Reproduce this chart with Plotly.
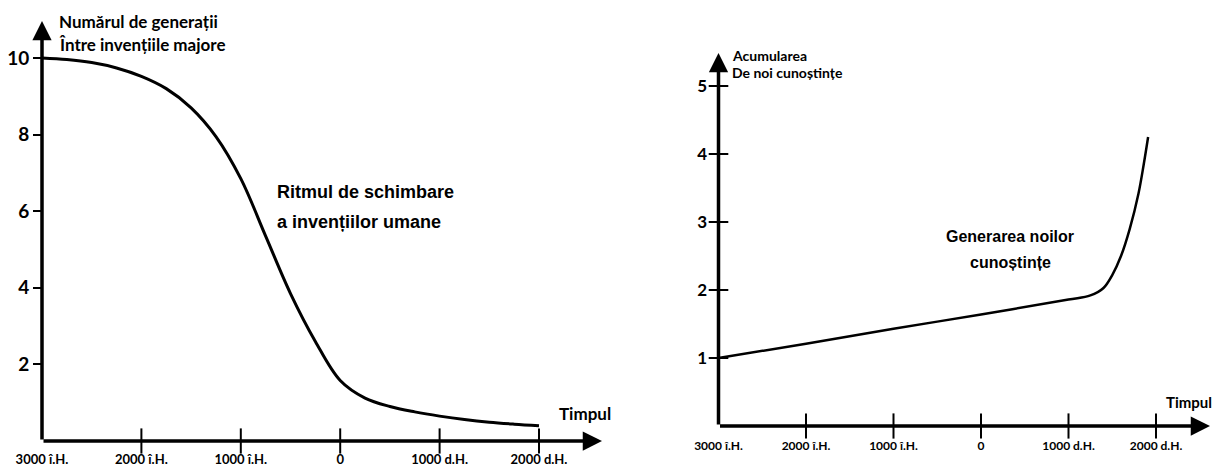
import plotly.graph_objects as go

W, H = 1216, 466

# ---------------- data ----------------
years_left = [-3000, -2750, -2500, -2250, -2000, -1750, -1500, -1250, -1000, -750, -500, -250,
              0, 250, 500, 750, 1000, 1250, 1500, 1750, 2000]
generations = [10.0, 9.96, 9.88, 9.74, 9.52, 9.2, 8.7, 7.95, 6.85, 5.35, 3.85, 2.6,
               1.58, 1.12, 0.9, 0.76, 0.65, 0.56, 0.49, 0.44, 0.4]

years_right = [-3000, -2000, -1000, 0, 1000, 1250, 1400, 1500, 1600, 1700, 1800, 1860, 1910]
knowledge = [1.0, 1.21, 1.43, 1.64, 1.86, 1.92, 2.03, 2.22, 2.5, 2.9, 3.42, 3.85, 4.25]

x_tickvals = [-3000, -2000, -1000, 0, 1000, 2000]
x_ticktext = ["3000 î.H.", "2000 î.H.", "1000 î.H.", "0", "1000 d.H.", "2000 d.H."]
left_y_ticks = [2, 4, 6, 8, 10]
right_y_ticks = [1, 2, 3, 4, 5]

left_title = ["Numărul de generații", "Între invențiile majore"]
left_label = ["Ritmul de schimbare", "a invențiilor umane"]
right_title = ["Acumularea", "De noi cunoștințe"]
right_label = ["Generarea noilor", "cunoștințe"]
time_label = "Timpul"

# ---------------- helpers ----------------
def px(x):
    return x / W

def py(y):
    return 1 - y / H

CAL = "Lato, 'Liberation Sans', sans-serif"
ARIAL = "'Liberation Sans', Arial, sans-serif"

fig = go.Figure()

# curves
fig.add_trace(go.Scatter(x=years_left, y=generations, mode="lines",
                         line=dict(color="black", width=3, shape="spline", smoothing=1.0),
                         xaxis="x", yaxis="y", hoverinfo="skip"))
fig.add_trace(go.Scatter(x=years_right, y=knowledge, mode="lines",
                         line=dict(color="black", width=2.5, shape="spline", smoothing=1.0),
                         xaxis="x2", yaxis="y2", hoverinfo="skip"))

# crossing tick marks on x axes
tick_x = x_tickvals[1:]
fig.add_trace(go.Scatter(x=tick_x, y=[0] * len(tick_x), mode="markers",
                         marker=dict(symbol="line-ns", size=18, line=dict(width=2, color="black")),
                         xaxis="x", yaxis="y", cliponaxis=False, hoverinfo="skip"))
fig.add_trace(go.Scatter(x=tick_x, y=[0] * len(tick_x), mode="markers",
                         marker=dict(symbol="line-ns", size=18, line=dict(width=2, color="black")),
                         xaxis="x2", yaxis="y2", cliponaxis=False, hoverinfo="skip"))
# crossing tick marks on the right y axis
fig.add_trace(go.Scatter(x=[-3000] * len(right_y_ticks), y=right_y_ticks, mode="markers",
                         marker=dict(symbol="line-ew", size=14, line=dict(width=2, color="black")),
                         xaxis="x2", yaxis="y2", cliponaxis=False, hoverinfo="skip"))

# ---------------- axes ----------------
L_x0, L_x1 = 42, 612
L_yb, L_yt = 441, 15
L_xpp = 1000 / 99.4
L_ypp = 1 / 38.3

R_x0, R_x1 = 718.5, 1214
R_yb, R_yt = 426, 48
R_xpp = 1000 / 87.5
R_ypp = 1 / 68.0

common_x = dict(showgrid=False, zeroline=False, showline=False, tickmode="array",
                tickvals=x_tickvals, ticktext=x_ticktext, ticks="outside", automargin=False,
                tickcolor="rgba(0,0,0,0)", tickwidth=1, fixedrange=True)
common_y = dict(showgrid=False, zeroline=False, showline=False, tickmode="array", automargin=False,
                ticks="outside", tickcolor="black", tickwidth=2, fixedrange=True)

fig.update_layout(
    xaxis=dict(domain=[px(L_x0), px(L_x1)], range=[-3000, -3000 + (L_x1 - L_x0) * L_xpp],
               anchor="y", ticklen=6,
               tickfont=dict(family=CAL, size=13, color="black", weight="bold"), **common_x),
    yaxis=dict(domain=[py(L_yb), py(L_yt)], range=[0, (L_yb - L_yt) * L_ypp], anchor="x",
               tickvals=left_y_ticks, ticklen=8,
               tickfont=dict(family=CAL, size=19, color="black", weight="bold"), **common_y),
    xaxis2=dict(domain=[px(R_x0), px(R_x1)], range=[-3000, -3000 + (R_x1 - R_x0) * R_xpp],
                anchor="y2", ticklen=9,
                tickfont=dict(family=CAL, size=12, color="black", weight="bold"), **common_x),
    yaxis2=dict(domain=[py(R_yb), py(R_yt)], range=[0, (R_yb - R_yt) * R_ypp], anchor="x2",
                tickvals=right_y_ticks, ticklen=7,
                tickfont=dict(family=CAL, size=17, color="black", weight="bold"), **common_y),
)

# axis arrows
def arrow(xr, yr, x0, y0, x1, y1):
    fig.add_annotation(x=x1, y=y1, ax=x0, ay=y0, xref=xr, yref=yr, axref=xr, ayref=yr,
                       text="", showarrow=True, arrowhead=2, arrowsize=1.1,
                       arrowwidth=3.5, arrowcolor="black")

arrow("x", "y", -3000, 0, -3000 + (602 - L_x0) * L_xpp, 0)
arrow("x", "y", -3000, 0, -3000, (L_yb - 21) * L_ypp)
arrow("x2", "y2", -3000, 0, -3000 + (1210 - R_x0) * R_xpp, 0)
arrow("x2", "y2", -3000, 0, -3000, (R_yb - 53) * R_ypp)

# ---------------- text ----------------
def text(t, x, y, fam, size, xanchor="left"):
    fig.add_annotation(text=t, x=px(x), y=py(y), xref="paper", yref="paper",
                       showarrow=False, xanchor=xanchor, yanchor="middle",
                       font=dict(family=fam, size=size, color="black", weight="bold"))

text(left_title[0], 57, 22, CAL, 17)
text(left_title[1], 57, 44, CAL, 17)
text(left_label[0], 275, 192, ARIAL, 18)
text(left_label[1], 275, 222, ARIAL, 18)
text(time_label, 557, 413, CAL, 17)

text(right_title[0], 730, 56, CAL, 14)
text(right_title[1], 730, 73, CAL, 14)
text(right_label[0], 1010, 236, ARIAL, 16, "center")
text(right_label[1], 1010, 262, ARIAL, 16, "center")
text(time_label, 1164, 402, CAL, 15)

fig.update_layout(width=W, height=H, margin=dict(l=0, r=0, t=0, b=0),
                  paper_bgcolor="white", plot_bgcolor="white", showlegend=False)

fig.write_html("out.html", config={"displayModeBar": False},
               post_script="document.body.style.margin='0';document.body.style.overflow='hidden';")
